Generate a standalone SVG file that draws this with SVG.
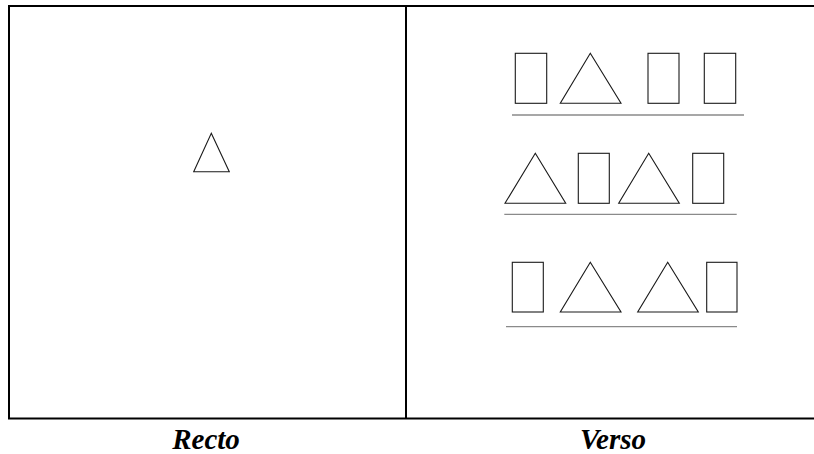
<svg xmlns="http://www.w3.org/2000/svg" width="814" height="454" viewBox="0 0 814 454">
<style>
.frame{stroke:#000;stroke-width:2;fill:none}
.shape{stroke:#1a1a1a;stroke-width:1.1;fill:#fff}
.rule{stroke:#8a8a8a;stroke-width:1.3}
.lbl{font-family:"Liberation Serif","Times New Roman",serif;font-weight:bold;font-style:italic;font-size:29px;fill:#000;text-anchor:middle}
</style>
<rect width="814" height="454" fill="#fff"/>
<g id="frame">
<path class="frame" d="M9 419.5 V6 H814 M8 418.5 H814 M406 6 V418.5"/>
</g>
<g id="recto">
<polygon class="shape" points="211.3,133.3 229.3,171.7 193.7,171.7"/>
</g>
<g id="verso-row1">
<rect class="shape" x="515.3" y="53.3" width="31.4" height="50"/>
<polygon class="shape" points="590.3,53.3 621,103.3 560.3,103.3"/>
<rect class="shape" x="648" y="53.3" width="31" height="50"/>
<rect class="shape" x="704.3" y="53.3" width="31.4" height="50"/>
<line class="rule" x1="512" y1="115" x2="744" y2="115"/>
</g>
<g id="verso-row2">
<polygon class="shape" points="535.3,153.3 565.7,203.3 505,203.3"/>
<rect class="shape" x="578.3" y="153.3" width="31" height="50"/>
<polygon class="shape" points="648.7,153.3 679.3,203.3 618.7,203.3"/>
<rect class="shape" x="692.7" y="153.3" width="31" height="50"/>
<line class="rule" x1="504.3" y1="214.3" x2="736.7" y2="214.3"/>
</g>
<g id="verso-row3">
<rect class="shape" x="512.3" y="262.3" width="31" height="49.7"/>
<polygon class="shape" points="590.3,262.3 621,312 560.3,312"/>
<polygon class="shape" points="667.7,262.3 698.3,312 637.7,312"/>
<rect class="shape" x="706.7" y="262.3" width="30.3" height="49.7"/>
<line class="rule" x1="506" y1="326.7" x2="737" y2="326.7"/>
</g>
<g id="labels">
<text class="lbl" x="206" y="449">Recto</text>
<text class="lbl" x="613" y="449">Verso</text>
</g>
</svg>
